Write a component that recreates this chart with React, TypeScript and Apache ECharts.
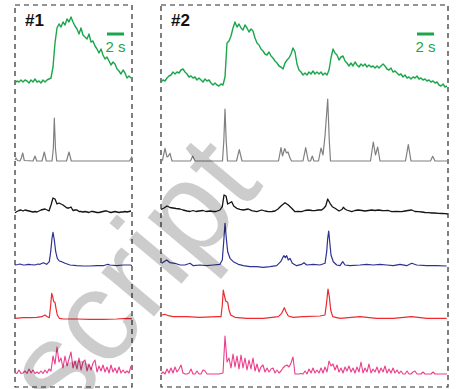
import React, { useEffect, useRef } from "react";
import * as echarts from "echarts";

// Time base: imaging frames (2 s = 17 frames)
const SCALE_BAR_FRAMES = 17;
const PANEL1_FRAMES = 117;
const PANEL2_FRAMES = 287;
const panelTitles = ["#1", "#2"];
const scaleLabel = "2 s";

// Uniformly sampled traces (one sample every 2 frames)
const SAMPLE_STEP = 2;
const green1 = [7,9,8,10,8,10,9,7,10,8,11,8,9,7,10,8,10,11,12,23,47,62,66,63,68,65,71,68,73,68,64,61,56,62,55,53,51,56,48,49,44,41,37,41,35,31,33,29,25,28,26,21,19,16,20,17,12,14,12];
const green2 = [8,10,9,12,14,15,18,16,18,17,20,21,18,16,13,14,12,13,10,12,10,8,11,9,10,7,5,7,5,4,6,5,
  13,47,49,54,62,68,63,66,62,60,65,62,58,61,59,52,47,45,41,39,36,35,38,34,32,29,27,24,23,21,27,30,32,36,42,38,26,20,18,15,17,15,18,16,19,16,18,16,18,15,17,15,20,32,41,37,35,30,33,34,29,27,24,27,24,28,25,23,26,24,26,23,25,23,24,22,24,22,24,26,24,21,20,22,18,19,17,15,16,13,15,12,13,11,13,12,14,11,12,10,11,9,10,8,9,7,8,5,4,6,3,4];
const black1 = [2.3,3.5,4.5,5,4,5,4.5,4,3.5,3,3.5,3,4,5,5.5,6,5,4,10,17,16,11,12,11,10,8.5,7,7,8,4.5,5,5,3.5,3.5,3,3.5,3,2.5,3.5,3.5,3,2.5,2.5,3,3.5,4,4,3,2.5,3,3.5,3,2.5,3,3,3.5,3,3.5,4];
const pink1 = [3,2.5,6,2.5,3,5,2.5,7,3,6,2.5,4,2.5,5,2.5,6,3,7,5,20,12,29,14,18,8,20,10,17,24,8,15,7,18,6,14,16,5,12,6,13,16,4,10,5,11,4,9,3,11,4,8,3,9,3,6,3,5,3,10];
const pink2 = [2,4,2,7,3,8,3,9,4,7,11,3,2,2,3,7,2,2,5,2,2,6,5,2,2,2,2,2,2,2,2.5,3,
  40,14,18,8,22,9,20,7,21,8,18,6,16,7,18,5,12,4,9,11,4,8,4,7,8,3,6,3,5,8,10,11,9,13,19,2,2,2,2.5,2,5,2,7,3,8,3,6,3,8,3,9,4,15,10,12,6,11,4,8,3,9,5,10,4,8,3,9,4,14,3,8,4,12,3,7,4,9,3,8,4,10,3,7,3,8,3,6,2.5,5,2,2,5,2,2,4,5,2,2,2,4,2,2,2,2,4,2,2,2,2,2,2,2];

// Traces given as [frame, value] points
const gray1 = [[0,1],[1,3],[2.5,0.5],[5,0],[6.3,3],[7.7,8],[9.3,0.5],[18,0],[20,5],[21.7,0],[27,0],[29.3,9],[31.3,0],[37,0],[38.3,12],[39.3,43],[40.5,12],[41.7,0],[51.5,0],[54,9],[56.3,0],[114.5,0],[116.7,4],[117,3]];
const gray2 = [[0,0],[1.5,1],[4,12.7],[6,4],[7,4.5],[9,7.7],[11,0],[29.5,0],[31.7,5],[34,0],[61.5,0],[62.8,20],[64,52],[65.2,20],[66.5,0],[75.5,0],[78.3,11.4],[81,0],[117.5,0],[120,13.4],[121.5,5],[123.7,12.5],[125.5,8],[127,9],[129,3],[130.5,0],[142,0],[144.7,13.4],[147.3,0],[149.5,0],[151.3,5],[153,0],[157.5,0],[160,13],[162,6],[164,25],[166.7,62],[168.3,20],[169.5,0],[209.5,0],[212.3,19],[214.5,6],[216.7,14],[219,0],[244.5,0],[247.3,16.4],[250,0],[269.5,0],[271.7,4.7],[274,0],[287,0]];
const black2 = [[0,5.5],[3,7],[6,9],[9,7.5],[12,7],[15,6.5],[19,6],[22,5],[26,4],[29,3.5],[32,4.5],[35,3.5],[38,4],[42,4.5],[45,3.5],[49,4],[52,3.5],[55,3.5],[59,5],[61.3,8.3],[63,20],[65,19],[66.7,11],[69,12.3],[70.7,13.3],[72.7,9],[75.7,6.7],[79,5.7],[82.3,5],[87.3,6],[90.7,4.3],[95.7,3.3],[100.7,5],[104,4],[107.3,3.3],[111,3.5],[114,4],[117,6],[120,9],[124,12.3],[127.3,10],[130.7,6.7],[134,3.3],[137,3.5],[140.7,3.3],[144,4.5],[147.3,5],[151,4.5],[154,4.3],[157,5],[160.7,5],[163,7],[164.7,9],[166.7,16],[169,11.7],[171.3,8.3],[174,6.7],[178,4],[181,5.5],[182.3,7.7],[184,6],[185.7,5],[190.7,3.3],[194,4.5],[197.3,5],[201,4.5],[204,4],[207.5,4.5],[210.7,5],[214,4.5],[217.3,5],[221,4.5],[224,4.3],[227.3,4.5],[230.7,3.3],[235,3.5],[240.7,3.3],[244,4],[247,4.5],[250.7,5],[254,3.5],[257.3,3.3],[261,3],[264,2.5],[267.3,2.3],[271,2],[274,2],[277.3,1.7],[281,1.5],[284,1.3],[286.7,1]];
const blue1 = [[0,3],[3,3.5],[5,4],[8,3],[10,3],[13,3.7],[16,3.3],[20,3],[23,4],[25,3.7],[28.3,5.3],[31.7,3.7],[34.3,6.3],[35.7,16.3],[37,29.7],[38,35.7],[39.3,28],[40.7,16.3],[42.3,9.7],[44.3,7],[46.7,6.3],[50,4.7],[55,3],[61.7,2.3],[68.3,2],[75,2],[81.7,2.3],[88.3,2.3],[92.7,3.7],[95,3],[101.7,2.3],[108.3,3],[115,3],[117,2.5]];
const blue2 = [[0.7,4.7],[5.7,8],[9,5.3],[14,4.7],[19,3],[24,3],[29,4.7],[32.3,2.3],[39,3],[45.7,2.3],[52.3,3],[59,3.7],[61.3,8],[62.7,26.3],[64,44.7],[65.3,29.7],[66.7,16.3],[69,9.7],[72.3,6.3],[77.3,3.7],[82.3,2.3],[89,1.3],[95.7,1.3],[102.3,0.7],[109,1.3],[115.7,2.3],[119.7,6.3],[121.7,10.3],[123,12.3],[124.3,10.3],[125.7,12.3],[127.3,8],[129,9.7],[131.3,4.7],[135.7,2.3],[140.7,3.7],[143,5.3],[145.7,3],[152.3,3.7],[159,3],[164,4.7],[165.7,16.3],[166.7,29.7],[167.7,37],[168.7,26.3],[170,13],[172.3,6.3],[175.7,3],[179,2.3],[181.7,6.3],[184,3],[189,2.3],[199,3],[205.7,3.7],[212.3,3],[219,3.7],[225.7,3],[232.3,2.3],[239,3.7],[245.7,2.3],[250.7,4.7],[255.7,3],[265.7,2.3],[275.7,2.3],[285.7,2]];
const red1 = [[0,1.7],[8.3,2.3],[15,2.3],[21.7,2.7],[26.7,3.3],[30,5],[32.3,3.3],[34.3,2.3],[35.7,15],[36.7,26.7],[37.7,23.3],[38.7,18.3],[40,17.7],[41,11.7],[42.3,5],[44.3,1.7],[48.3,1],[61.7,1],[75,0.7],[88.3,0.7],[101.7,1],[111.7,1.7],[117,1.2]];
const red2 = [[0.7,5],[4,5.7],[7.3,4.3],[12.3,3.3],[25.7,3.3],[39,2.7],[55.7,3.3],[60,3.3],[61.3,15],[62.3,30],[63.3,25],[64.7,19],[66.7,17.7],[68,10],[69.7,5],[74,2.7],[85.7,1.7],[102.3,1.7],[117.3,3.3],[120.7,6.7],[123.3,12.3],[125,8.3],[127.3,4],[132.3,2.7],[142.3,3.3],[159,4],[164,5],[165.7,18.3],[167,31],[168.3,23.3],[169.7,10],[171.7,3.3],[179,1.7],[199,3.3],[215.7,1.7],[232.3,1.7],[250.7,3.3],[265.7,1.7],[285.7,1.7]];

const toPairs = (arr: number[]) => arr.map((v, i) => [i * SAMPLE_STEP, v]);

// layout of the six trace rows (pixel placement)
const rows = [
  { color: "#1ba64c", zeroY: 90, range: 82, width: 1.4 },
  { color: "#808080", zeroY: 161, range: 66, width: 1.2 },
  { color: "#141414", zeroY: 215, range: 30, width: 1.3 },
  { color: "#2d3392", zeroY: 268, range: 50, width: 1.2 },
  { color: "#ee2a2f", zeroY: 320, range: 40, width: 1.2 },
  { color: "#ec3d8c", zeroY: 376, range: 50, width: 1.1 },
];

const panels = [
  { left: 15, frames: PANEL1_FRAMES, barRight: 124, data: [toPairs(green1), gray1, toPairs(black1), blue1, red1, toPairs(pink1)] },
  { left: 161, frames: PANEL2_FRAMES, barRight: 434, data: [toPairs(green2), gray2, black2, blue2, red2, toPairs(pink2)] },
];

function buildOption() {
  const grid: any[] = [];
  const xAxis: any[] = [];
  const yAxis: any[] = [];
  const series: any[] = [];
  panels.forEach((p) => {
    rows.forEach((r, ri) => {
      const idx = grid.length;
      grid.push({ left: p.left, width: p.frames, top: r.zeroY - r.range, height: r.range, containLabel: false });
      xAxis.push({ type: "value", gridIndex: idx, min: 0, max: p.frames, show: false });
      yAxis.push({ type: "value", gridIndex: idx, min: 0, max: r.range, show: false });
      series.push({
        type: "line", xAxisIndex: idx, yAxisIndex: idx, data: p.data[ri],
        showSymbol: false, symbol: "none", clip: false, silent: true,
        lineStyle: { color: r.color, width: r.width, join: "round" },
      });
    });
  });
  const green = rows[0].color;
  const graphic: any[] = [];
  panels.forEach((p, pi) => {
    graphic.push({
      type: "rect", shape: { x: p.left, y: 5, width: p.frames, height: 382 },
      style: { fill: "none", stroke: "#2a2a2a", lineWidth: 1.2, lineDash: [5, 4] }, silent: true,
    });
    graphic.push({
      type: "text", x: p.left + 10, y: 12,
      style: { text: panelTitles[pi], fontSize: 17, fontWeight: "bold", fontFamily: "Liberation Sans, Arial, sans-serif", fill: "#111", verticalAlign: "top" },
    });
    graphic.push({
      type: "line", shape: { x1: p.barRight - SCALE_BAR_FRAMES, y1: 34, x2: p.barRight, y2: 34 },
      style: { stroke: green, lineWidth: 3 },
    });
    graphic.push({
      type: "text", x: p.barRight - SCALE_BAR_FRAMES / 2, y: 39,
      style: { text: scaleLabel, fontSize: 15, fontFamily: "Liberation Sans, Arial, sans-serif", fill: green, align: "center", verticalAlign: "top" },
    });
  });
  graphic.push({
    type: "text", x: 80, y: 436, rotation: (50 * Math.PI) / 180, z: 100, silent: true,
    style: { text: "script", fontSize: 130, fontFamily: "Liberation Sans, Arial, sans-serif", fill: "rgba(0,0,0,0.2)", align: "left", verticalAlign: "bottom" },
  });
  return { animation: false, backgroundColor: "#ffffff", grid, xAxis, yAxis, series, graphic };
}

export default function App() {
  const ref = useRef<HTMLDivElement>(null);
  useEffect(() => {
    const chart = echarts.init(ref.current!, null, { renderer: "svg", width: 461, height: 389 });
    chart.setOption(buildOption());
    return () => chart.dispose();
  }, []);
  return <div ref={ref} style={{ position: "absolute", left: 0, top: 0, width: 461, height: 389 }} />;
}
